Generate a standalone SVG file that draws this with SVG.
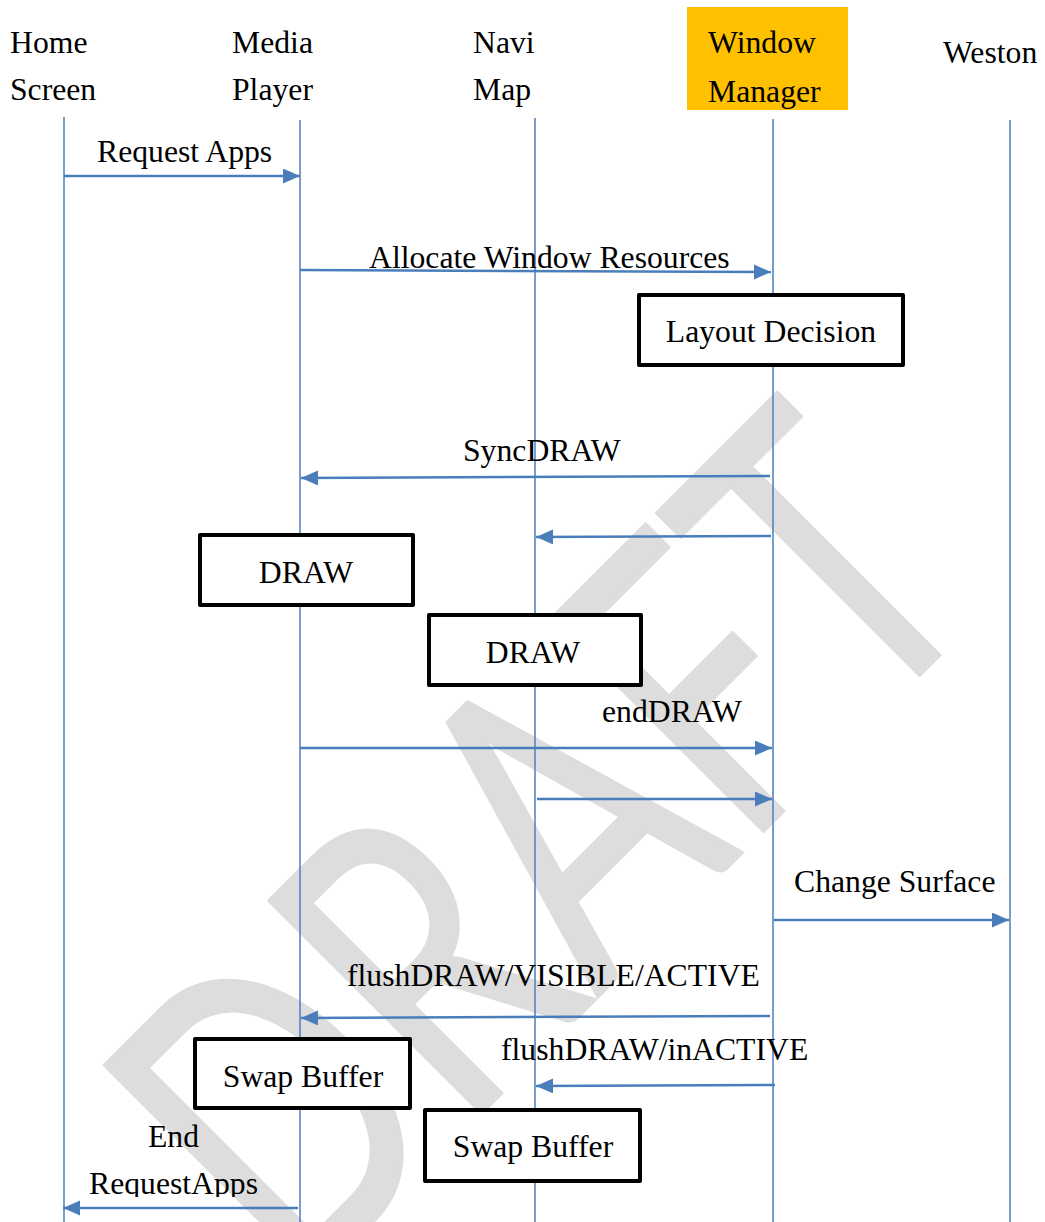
<svg xmlns="http://www.w3.org/2000/svg" width="1045" height="1222" viewBox="0 0 1045 1222">
<style>
text{font-family:"Liberation Serif","Times New Roman",serif;font-size:31.7px;fill:#000}
.life{stroke:#4a7ebb;stroke-width:1.5;fill:none}
.msg{stroke:#4a7ebb;stroke-width:2.5;fill:none;marker-end:url(#arr)}
.box{fill:#fff;stroke:#000;stroke-width:4;stroke-linejoin:round}
.mid{text-anchor:middle}
</style>
<defs>
<marker id="arr" markerUnits="userSpaceOnUse" markerWidth="18" markerHeight="16" refX="17" refY="7.5" orient="auto">
<path d="M0,0 L17,7.5 L0,15 z" fill="#4a7ebb"/>
</marker>
<clipPath id="wmclip"><rect x="687" y="7" width="161" height="103"/></clipPath>
<clipPath id="endclip"><rect x="0" y="1100" width="300" height="97"/></clipPath>
</defs>
<rect width="1045" height="1222" fill="#fff"/>
<g id="watermark" transform="translate(297,1298) rotate(-45)">
<text x="0" y="0" style="font-family:Lato,'Open Sans',sans-serif;font-size:420px;fill:#dddddd" stroke="#dddddd" stroke-width="3" stroke-linejoin="round" textLength="985" lengthAdjust="spacingAndGlyphs">DRAFT</text>
</g>
<g id="lifelines">
<line class="life" x1="64" y1="117" x2="64" y2="1222"/>
<line class="life" x1="300" y1="120" x2="300" y2="1222"/>
<line class="life" x1="535" y1="118" x2="535" y2="1222"/>
<line class="life" x1="773" y1="119" x2="773" y2="1222"/>
<line class="life" x1="1010" y1="120" x2="1010" y2="1222"/>
</g>
<g id="home"><text x="10" y="53">Home</text><text x="10" y="100">Screen</text></g>
<g id="media"><text x="232" y="53">Media</text><text x="232" y="100">Player</text></g>
<g id="navi"><text x="473" y="53">Navi</text><text x="473" y="100">Map</text></g>
<g id="wm">
<rect x="687" y="7" width="161" height="103" fill="#ffc000"/>
<g clip-path="url(#wmclip)"><text x="708" y="53">Window</text><text x="708" y="102">Manager</text></g>
</g>
<g id="weston"><text x="943" y="63">Weston</text></g>
<g id="connectors">
<line class="msg" x1="64" y1="176" x2="300" y2="176"/>
<line class="msg" x1="300" y1="270" x2="771" y2="272"/>
<line class="msg" x1="770" y1="476" x2="301" y2="478"/>
<line class="msg" x1="771" y1="536" x2="536" y2="537"/>
<line class="msg" x1="300" y1="748" x2="772" y2="748"/>
<line class="msg" x1="537" y1="799" x2="772" y2="799"/>
<line class="msg" x1="774" y1="920" x2="1009" y2="920"/>
<line class="msg" x1="770" y1="1016" x2="301" y2="1018"/>
<line class="msg" x1="775" y1="1085" x2="536" y2="1086"/>
<line class="msg" x1="298" y1="1208" x2="63" y2="1208"/>
</g>
<g id="labels">
<text x="97" y="162">Request Apps</text>
<text x="369" y="268">Allocate Window Resources</text>
<text x="463" y="461">SyncDRAW</text>
<text x="602" y="722">endDRAW</text>
<text x="794" y="892">Change Surface</text>
<text x="347" y="986">flushDRAW/VISIBLE/ACTIVE</text>
<text x="501" y="1060">flushDRAW/inACTIVE</text>
<text x="148" y="1147">End</text>
<g clip-path="url(#endclip)"><text x="89" y="1194">RequestApps</text></g>
</g>
<g id="layout"><rect class="box" x="639" y="295" width="264" height="70"/><text class="mid" x="771" y="342">Layout Decision</text></g>
<g id="draw1"><rect class="box" x="200" y="535" width="213" height="70"/><text class="mid" x="306" y="583">DRAW</text></g>
<g id="draw2"><rect class="box" x="429" y="615" width="212" height="70"/><text class="mid" x="533" y="663">DRAW</text></g>
<g id="swap1"><rect class="box" x="195" y="1039" width="215" height="69"/><text class="mid" x="303" y="1087">Swap Buffer</text></g>
<g id="swap2"><rect class="box" x="425" y="1110" width="215" height="71"/><text class="mid" x="533" y="1157">Swap Buffer</text></g>
</svg>
